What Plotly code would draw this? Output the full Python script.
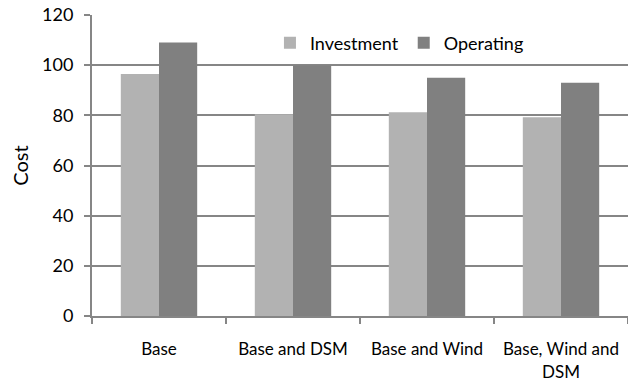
import plotly.graph_objects as go

# Scenario cost comparison
scenarios = ["Base", "Base and DSM", "Base and Wind", "Base, Wind and<br>DSM"]
investment = [96.5, 80.4, 81.2, 79.2]
operating = [109, 100, 95, 93]

grid_color = "#868686"
font_family = "Lato, 'Open Sans', sans-serif"

fig = go.Figure()
fig.add_trace(go.Bar(name="Investment", x=scenarios, y=investment,
                     marker=dict(color="#b2b2b2", line=dict(width=0))))
fig.add_trace(go.Bar(name="Operating", x=scenarios, y=operating,
                     marker=dict(color="#808080", line=dict(width=0))))

fig.update_layout(
    width=628, height=381,
    margin=dict(l=92, r=0, t=15, b=65),
    paper_bgcolor="white", plot_bgcolor="white",
    barmode="group", bargap=0.43, bargroupgap=0,
    font=dict(family=font_family, color="#000000", size=17),
    legend=dict(orientation="h", x=0.332, y=0.907, xanchor="left", yanchor="middle",
                font=dict(size=18), bgcolor="rgba(0,0,0,0)",
                itemwidth=30, traceorder="normal"),
    showlegend=True,
)
fig.update_yaxes(range=[0, 120], dtick=20, showgrid=True, gridcolor=grid_color,
                 gridwidth=2, zeroline=False, showline=True, linecolor=grid_color,
                 linewidth=2, ticks="outside", ticklen=6, tickcolor=grid_color,
                 tickwidth=2, tickfont=dict(size=18), ticklabelstandoff=7,
                 title=dict(text="Cost", font=dict(size=20), standoff=8))
fig.update_xaxes(showline=True, linecolor=grid_color, linewidth=2,
                 ticks="outside", tickson="boundaries", ticklen=6,
                 tickcolor=grid_color, tickwidth=2, showgrid=False,
                 tickfont=dict(size=17), ticklabelstandoff=17)

fig.write_html("out.html")
